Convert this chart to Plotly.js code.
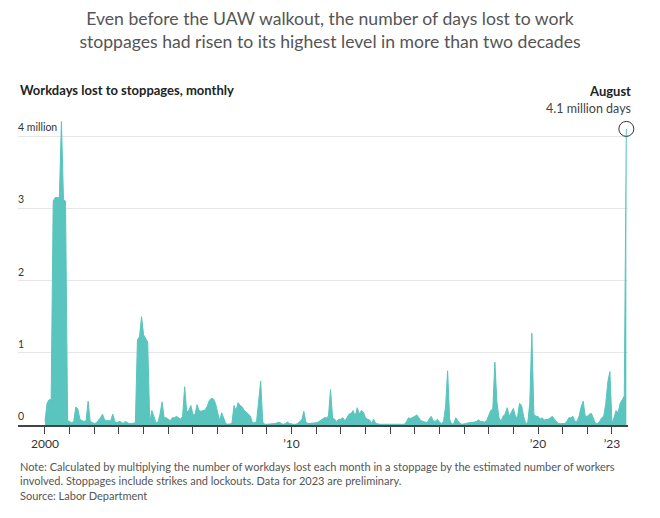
<!DOCTYPE html>
<html>
<head>
<meta charset="utf-8">
<script src="https://cdn.plot.ly/plotly-3.0.1.min.js"></script>
<style>
    body { margin: 0; background: #fff; }
</style>
</head>
<body>
<div id="chart" style="width:660px;height:518px;"></div>
<script>
    // workdays lost to stoppages, millions, one value per month starting Jan 2000
    var firstYear = 2000;
    var workdaysLost = [
        0.05, 0.3, 0.35, 0.35, 3.1, 3.15, 3.15, 3.15, 4.2, 3.12, 3.1, 0.06,      // 2000
        0.05, 0.03, 0.05, 0.25, 0.22, 0.08, 0.06, 0.05, 0.06, 0.33, 0.05, 0.03,  // 2001
        0.02, 0.03, 0.06, 0.1, 0.15, 0.07, 0.06, 0.06, 0.06, 0.15, 0.05, 0.03,   // 2002
        0.05, 0.04, 0.02, 0.05, 0.03, 0.02, 0.02, 0.02, 0.03, 1.18, 1.22, 1.5,   // 2003
        1.25, 1.2, 1.15, 0.03, 0.2, 0.12, 0.03, 0.04, 0.15, 0.32, 0.1, 0.1,      // 2004
        0.08, 0.06, 0.1, 0.1, 0.12, 0.1, 0.08, 0.12, 0.53, 0.18, 0.2, 0.27,      // 2005
        0.15, 0.14, 0.28, 0.2, 0.19, 0.2, 0.21, 0.26, 0.34, 0.37, 0.36, 0.3,     // 2006
        0.18, 0.06, 0.17, 0.1, 0.02, 0.01, 0.01, 0.02, 0.27, 0.2, 0.31, 0.27,    // 2007
        0.25, 0.2, 0.18, 0.15, 0.12, 0.03, 0.03, 0.05, 0.38, 0.61, 0.04, 0.01,   // 2008
        0.01, 0.01, 0.01, 0.01, 0.02, 0.03, 0.04, 0.02, 0.01, 0.02, 0.04, 0.02,  // 2009
        0.01, 0.01, 0.01, 0.02, 0.05, 0.07, 0.19, 0.04, 0.02, 0.02, 0.03, 0.03,  // 2010
        0.03, 0.04, 0.06, 0.08, 0.1, 0.1, 0.12, 0.49, 0.1, 0.08, 0.05, 0.08,     // 2011
        0.08, 0.1, 0.06, 0.1, 0.15, 0.16, 0.2, 0.12, 0.24, 0.15, 0.2, 0.18,      // 2012
        0.1, 0.08, 0.07, 0.02, 0.08, 0.02, 0.01, 0.01, 0.01, 0.01, 0.01, 0.01,   // 2013
        0.01, 0.01, 0.01, 0.02, 0.01, 0.01, 0.02, 0.01, 0.05, 0.1, 0.09, 0.1,    // 2014
        0.12, 0.14, 0.1, 0.06, 0.05, 0.04, 0.03, 0.08, 0.12, 0.06, 0.05, 0.08,   // 2015
        0.04, 0.02, 0.05, 0.25, 0.75, 0.08, 0.01, 0.02, 0.1, 0.06, 0.02, 0.01,   // 2016
        0.01, 0.02, 0.03, 0.03, 0.04, 0.04, 0.05, 0.07, 0.05, 0.04, 0.04, 0.06,  // 2017
        0.12, 0.2, 0.22, 0.87, 0.32, 0.1, 0.05, 0.12, 0.15, 0.24, 0.12, 0.18,    // 2018
        0.23, 0.12, 0.1, 0.3, 0.27, 0.12, 0.02, 0.03, 0.3, 1.27, 0.15, 0.12,     // 2019
        0.12, 0.08, 0.1, 0.07, 0.07, 0.08, 0.1, 0.12, 0.08, 0.05, 0.02, 0.02,    // 2020
        0.02, 0.02, 0.05, 0.1, 0.1, 0.12, 0.05, 0.05, 0.12, 0.25, 0.33, 0.12,    // 2021
        0.12, 0.15, 0.16, 0.08, 0.02, 0.02, 0.05, 0.1, 0.12, 0.3, 0.6, 0.74,     // 2022
        0.02, 0.1, 0.2, 0.17, 0.3, 0.35, 0.4, 4.1                                // 2023
    ];

    var tickYears = [];
    for (var y = 2000; y <= 2023; y++) tickYears.push(y);
    var labeledYears = [2000, 2010, 2020, 2023];
    var labeledText = ['2000', '\u201910', '\u201920', '\u201923'];

    var yTickVals = [0, 1, 2, 3, 4];
    var yTickText = ['0', '1', '2', '3', '4 million'];

    var titleText = 'Even before the UAW walkout, the number of days lost to work<br>' +
        'stoppages had risen to its highest level in more than two decades';
    var subtitleText = 'Workdays lost to stoppages, monthly';
    var noteText = 'Note: Calculated by multiplying the number of workdays lost each month in a stoppage by the estimated number of workers<br>' +
        'involved. Stoppages include strikes and lockouts. Data for 2023 are preliminary.<br>' +
        'Source: Labor Department';

    var font = 'Lato, "Noto Sans", sans-serif';
    var teal = '#5ac4be';

    // month position as a decimal year
    var months = workdaysLost.map(function (v, i) { return firstYear + i / 12; });
    var tickText = tickYears.map(function (yr) {
        var k = labeledYears.indexOf(yr);
        return k >= 0 ? labeledText[k] : '';
    });

    var last = workdaysLost.length - 1;

    var area = {
        x: months,
        y: workdaysLost,
        type: 'scatter',
        mode: 'lines',
        fill: 'tozeroy',
        fillcolor: teal,
        line: { color: teal, width: 1 },
        hoverinfo: 'skip'
    };

    var marker = {
        x: [months[last]],
        y: [workdaysLost[last]],
        type: 'scatter',
        mode: 'markers',
        marker: { symbol: 'circle-open', size: 15, color: '#333', line: { width: 1 } },
        hoverinfo: 'skip',
        cliponaxis: false
    };

    // y tick labels sit just above their gridlines, inside the plot
    var yLabels = yTickVals.map(function (v, i) {
        return {
            text: yTickText[i],
            xref: 'paper', yref: 'y',
            x: 0, y: v,
            xanchor: 'left', yanchor: 'bottom',
            xshift: -2, yshift: 1,
            showarrow: false,
            font: { family: font, size: 10.5, color: '#333' }
        };
    });

    var layout = {
        width: 660,
        height: 518,
        margin: { l: 18, r: 32, t: 113, b: 93 },
        paper_bgcolor: '#fff',
        plot_bgcolor: '#fff',
        showlegend: false,
        font: { family: font, color: '#333' },
        title: {
            text: titleText,
            x: 0.5,
            xanchor: 'center',
            y: 0.952,
            yanchor: 'top',
            yref: 'container',
            font: { family: font, size: 17.6, color: '#555' }
        },
        xaxis: {
            range: [1998.905, 2023.651],
            tickmode: 'array',
            tickvals: tickYears,
            ticktext: tickText,
            ticks: 'outside',
            ticklen: 7,
            tickwidth: 1,
            tickcolor: '#444',
            showline: true,
            linecolor: '#444',
            linewidth: 1.5,
            showgrid: false,
            zeroline: false,
            tickfont: { family: font, size: 12, color: '#333' },
            fixedrange: true
        },
        yaxis: {
            range: [0, 4.32],
            tickmode: 'array',
            tickvals: yTickVals,
            showticklabels: false,
            ticks: '',
            showgrid: true,
            gridcolor: '#e6e6e6',
            zeroline: false,
            showline: false,
            fixedrange: true
        },
        annotations: yLabels.concat([
            {
                text: '<b>' + subtitleText + '</b>',
                xref: 'paper', yref: 'paper',
                x: 0, y: 1.074,
                xanchor: 'left', yanchor: 'middle',
                showarrow: false,
                font: { family: font, size: 13, color: '#222' }
            },
            {
                text: '<b>August</b>',
                xref: 'paper', yref: 'paper',
                x: 1.009, y: 1.07,
                xanchor: 'right', yanchor: 'middle',
                showarrow: false,
                font: { family: font, size: 13, color: '#222' }
            },
            {
                text: '4.1 million days',
                xref: 'paper', yref: 'paper',
                x: 1.009, y: 1.016,
                xanchor: 'right', yanchor: 'middle',
                showarrow: false,
                font: { family: font, size: 12.5, color: '#444' }
            },
            {
                text: noteText,
                xref: 'paper', yref: 'paper',
                x: 0, y: -0.107,
                xanchor: 'left', yanchor: 'top',
                align: 'left',
                showarrow: false,
                font: { family: font, size: 11, color: '#555' }
            }
        ])
    };

    Plotly.newPlot('chart', [area, marker], layout, { displayModeBar: false, staticPlot: true });
</script>
</body>
</html>
